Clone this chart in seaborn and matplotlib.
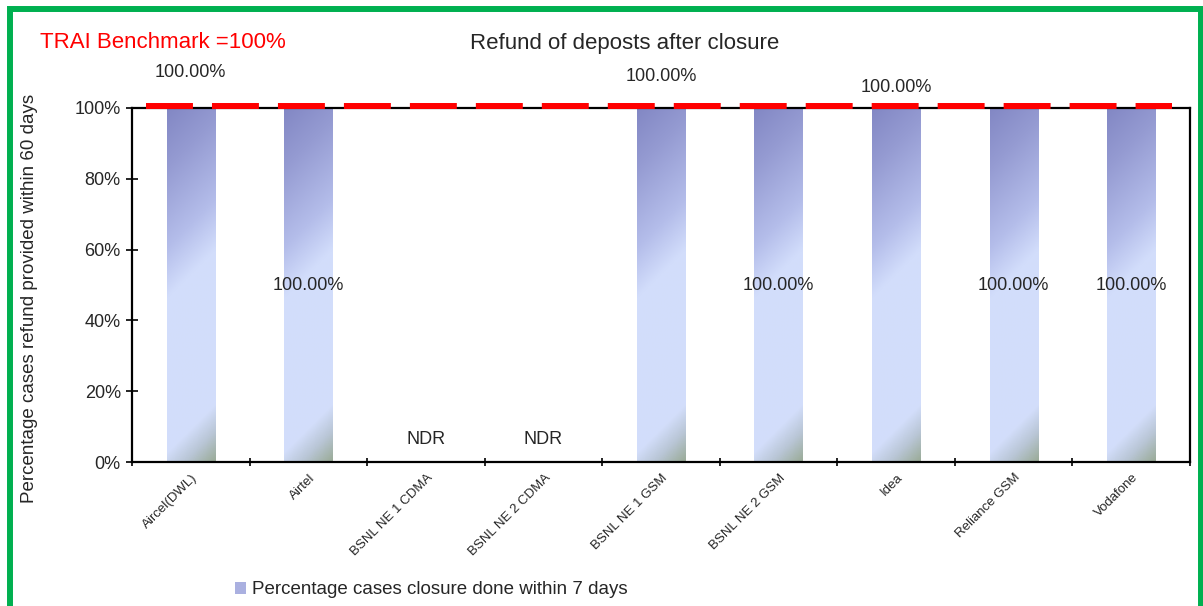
import numpy as np
import pandas as pd
import matplotlib as mpl
mpl.use('Agg')
import matplotlib.pyplot as plt
from matplotlib.colors import LinearSegmentedColormap
from matplotlib.patches import Patch, Rectangle
from matplotlib.transforms import ScaledTranslation
import seaborn as sns

# chart data
operators = ["Aircel(DWL)", "Airtel", "BSNL NE 1 CDMA", "BSNL NE 2 CDMA",
             "BSNL NE 1 GSM", "BSNL NE 2 GSM", "Idea", "Reliance GSM", "Vodafone"]
closure_7days = [100, 100, np.nan, np.nan, 100, 100, 100, 100, 100]
bar_labels = ["100.00%", "100.00%", "NDR", "NDR", "100.00%",
              "100.00%", "100.00%", "100.00%", "100.00%"]
benchmark = 100
yticks = [0, 20, 40, 60, 80, 100]

sns.set_theme(style="white")
plt.rcParams['font.family'] = ['Liberation Sans', 'DejaVu Sans']
plt.rcParams['lines.scale_dashes'] = False

df = pd.DataFrame({"operator": operators, "value": closure_7days}).dropna()

fig = plt.figure(figsize=(12.03, 6.06), dpi=100)
ax = fig.add_axes([0.1097, 0.2376, 0.8795, 0.5842])
sns.barplot(data=df, x="operator", y="value", order=operators, width=0.41,
            color="#b0b8e8", saturation=1, ax=ax)
ax.set_xlim(-0.5, 8.5)
ax.set_ylim(0, 100)

# Excel style diagonal gradient fill for the bars
stops = [(0, "#8287c4"), (60, "#959bd2"), (140, "#b4bdea"), (190, "#d2ddfb"),
         (345, "#d3defb"), (372, "#b9c6d6"), (402, "#9aab97")]
grad = LinearSegmentedColormap.from_list("bar", [(t / 402, c) for t, c in stops])
for bar in list(ax.patches):
    bar.set_edgecolor("none")
    x0, y0, w, h = bar.get_x(), bar.get_y(), bar.get_width(), bar.get_height()
    p0 = ax.transData.transform((x0, y0 + h))
    p1 = ax.transData.transform((x0 + w, y0))
    wpx, hpx = p1[0] - p0[0], p0[1] - p1[1]
    U, V = np.meshgrid(np.linspace(0, 1, 60), np.linspace(0, 1, 300))
    t = (V * hpx + U * wpx) / (hpx + wpx)
    im = ax.imshow(t, cmap=grad, vmin=0, vmax=1, extent=[x0, x0 + w, y0, y0 + h],
                   origin='upper', aspect='auto', interpolation='bilinear',
                   zorder=bar.get_zorder() + 0.1)
    im.set_clip_path(bar)
ax.set_xlim(-0.5, 8.5)
ax.set_ylim(0, 100)

# benchmark line
ax.plot([-0.38, 8.35], [benchmark + 0.7, benchmark + 0.7], color='red', lw=4.3,
        dashes=(33.8, 13.7), dash_capstyle='butt', clip_on=False, zorder=5)

# data labels
label_y = [109.9, 50, 6.5, 6.5, 109, 50, 105.9, 50, 50]
for i, (txt, yy) in enumerate(zip(bar_labels, label_y)):
    ax.text(i, yy, txt, ha='center', va='center', fontsize=13, clip_on=False, zorder=6)

# axes
ax.set_yticks(yticks)
ax.yaxis.set_major_formatter(mpl.ticker.FuncFormatter(lambda v, _: f"{v:.0f}%"))
ax.tick_params(axis='y', direction='inout', length=8, width=1.2, labelsize=13,
               pad=4, left=True, color='black')
ax.set_xticks(range(len(operators)))
ax.set_xticklabels(operators, rotation=45, ha='right', va='center',
                   rotation_mode='anchor', fontsize=9.5)
ax.tick_params(axis='x', which='major', length=0, pad=10)
shift = ScaledTranslation(5 / 100, 0, fig.dpi_scale_trans)
for lab in ax.get_xticklabels():
    lab.set_transform(lab.get_transform() + shift)
ax.set_xticks(np.arange(-0.5, len(operators), 1), minor=True)
ax.tick_params(axis='x', which='minor', direction='inout', length=6, width=1.2,
               bottom=True, color='black')
for s in ax.spines.values():
    s.set_color('black')
    s.set_linewidth(1.6)
ax.set_xlabel("")
ax.set_ylabel("Percentage cases refund provided within 60 days", fontsize=13.5)
ax.yaxis.set_label_coords(-0.089, 0.462)

fig.text(625 / 1203, 1 - 44 / 606, "Refund of deposts after closure",
         ha='center', va='center', fontsize=16)
fig.text(40 / 1203, 1 - 42 / 606, "TRAI Benchmark =100%", color='red',
         ha='left', va='center', fontsize=16)

fig.legend(handles=[Patch(facecolor='#aab0e0', edgecolor='none',
                          label='Percentage cases closure done within 7 days')],
           loc='center left', bbox_to_anchor=(235 / 1203, 1 - 590 / 606),
           frameon=False, fontsize=13.5, handlelength=0.6, handleheight=0.6,
           handletextpad=0.3, borderpad=0, borderaxespad=0)

# green outer border
fig.add_artist(Rectangle((9.5 / 1203, -2 / 606), (1201 - 9.5) / 1203, (608 - 8.5) / 606,
                         transform=fig.transFigure, fill=False, edgecolor='#00b050',
                         lw=4.3, clip_on=False))

fig.savefig('out.png', dpi=100)
